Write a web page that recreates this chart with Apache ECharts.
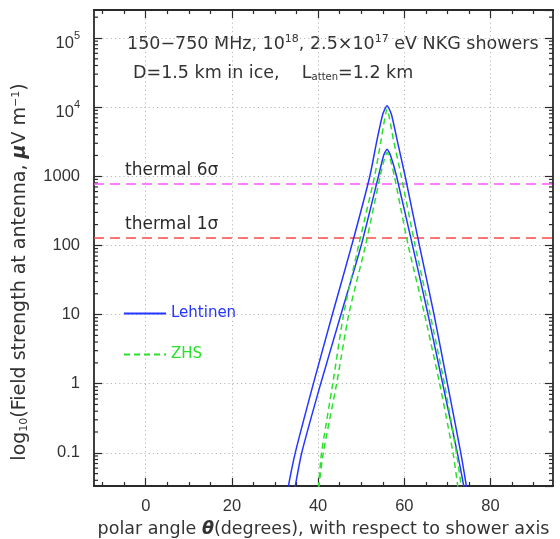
<!DOCTYPE html>
<html><head><meta charset="utf-8">
<script src="https://cdn.jsdelivr.net/npm/echarts@6/dist/echarts.min.js"></script>
<style>html,body{margin:0;padding:0;background:#fff}#c{width:560px;height:539px}</style>
</head><body><div id="c"></div>
<script>
// ---- data ----
const lehtinen18Theta = [32.7, 33.1, 34.7, 38.9, 43.3, 47.8, 52.0, 53.6, 55.0, 56.0, 57.0, 58.4, 60.2, 63.5, 66.9, 70.0, 73.1, 74.4, 74.8];
const lehtinen18Field = [0.022, 0.033, 0.1, 1, 10, 100, 1000, 3200, 7900, 10500, 7900, 3200, 1000, 100, 10, 1, 0.1, 0.033, 0.022];

const lehtinen17Theta = [34.3, 34.7, 36.2, 40.6, 45.3, 50.0, 54.0, 55.2, 56.0, 56.8, 58.2, 61.9, 65.5, 68.9, 72.3, 73.8, 74.2];
const lehtinen17Field = [0.022, 0.033, 0.1, 1, 10, 100, 1000, 2000, 2450, 2000, 1000, 100, 10, 1, 0.1, 0.033, 0.022];

const zhs18Theta = [40.0, 40.1, 40.8, 43.4, 45.9, 49.4, 53.1, 54.6, 56.0, 57.5, 59.3, 62.5, 66.0, 69.3, 72.1, 73.2, 73.5];
const zhs18Field = [0.022, 0.033, 0.1, 1, 10, 100, 1000, 3300, 9300, 3300, 1000, 100, 10, 1, 0.1, 0.033, 0.022];

const zhs17Theta = [40.1, 40.2, 41.2, 44.3, 47.1, 51.0, 54.4, 55.3, 56.0, 56.8, 57.7, 60.9, 64.7, 68.2, 71.3, 72.4, 72.7];
const zhs17Field = [0.022, 0.033, 0.1, 1, 10, 100, 1000, 1700, 2200, 1700, 1000, 100, 10, 1, 0.1, 0.033, 0.022];

const thermal1Sigma = 128;
const thermal6Sigma = 768;

const xMajorTicks = [0, 20, 40, 60, 80];
const xMinorTicks = [-10, -5, 5, 10, 15, 25, 30, 35, 45, 50, 55, 65, 70, 75, 85, 90];
const yMinorTicks = [];
for (let e = -2; e <= 5; e++) for (let m = 2; m <= 9; m++) yMinorTicks.push(m * Math.pow(10, e));

const xMin = -12, xMax = 94.5, yMin = 0.0331, yMax = 254000;

// ---- chart ----
const BLUE = '#2436ff', GREEN = '#2be02b', INK = '#2a2a2a', TXT = '#333';
const NUMF = 'Liberation Sans', WF = 'DejaVu Sans';
const pairs = (a, b) => a.map((t, i) => [t, b[i]]);
const frameLine = { show: true, onZero: false, lineStyle: { color: INK, width: 1.8 } };
const tickStyle = { color: INK, width: 1.2 };
const gridDots = { show: true, lineStyle: { color: '#b8b8b8', type: [1.2, 3], width: 1 } };

function xAx(pos, ticks, len, labels, split) {
  return {
    type: 'value', position: pos, min: xMin, max: xMax, gridIndex: 0,
    axisLine: frameLine,
    axisTick: { show: true, inside: true, length: len, customValues: ticks, lineStyle: tickStyle },
    axisLabel: labels ? { show: true, customValues: ticks, fontSize: 16.5, color: TXT, margin: 12, fontFamily: NUMF } : { show: false },
    splitLine: split ? gridDots : { show: false },
    name: labels ? 'polar angle {it|θ}(degrees), with respect to shower axis' : '',
    nameLocation: 'middle', nameGap: 34,
    nameTextStyle: { fontSize: 17.5, color: TXT, fontFamily: WF, rich: { it: { fontStyle: 'italic', fontWeight: 'bold', fontSize: 17.5, color: TXT, fontFamily: WF } } }
  };
}
function yAx(pos, labels) {
  return {
    type: 'log', logBase: 10, position: pos, min: yMin, max: yMax,
    axisLine: frameLine,
    axisTick: { show: true, inside: true, length: 8, lineStyle: tickStyle },
    axisLabel: labels ? {
      show: true, showMinLabel: false, showMaxLabel: false, fontSize: 16.5, color: TXT, margin: 14, fontFamily: NUMF,
      formatter: v => { const e = Math.round(Math.log10(v)); if (e >= 4) return '{b|10}{sup|' + e + '}'; if (e < 0) return '0.1'; return String(Math.pow(10, e)); },
      rich: { b: { fontSize: 16.5, color: TXT, fontFamily: NUMF, padding: [10, 0, 0, 0] },
              sup: { fontSize: 11, color: TXT, fontFamily: NUMF, padding: [0, 0, 4, 0] } }
    } : { show: false },
    splitLine: labels ? gridDots : { show: false }
  };
}

const curve = (name, data, color, dashed) => ({
  name, type: 'line', data, symbol: 'none', smooth: 0.2, clip: true, z: 5,
  lineStyle: { color, width: 1.5, type: dashed ? [6, 4] : 'solid' },
  itemStyle: { color }
});

const thermalLabel = txt => ({ show: true, position: 'insideStartTop', formatter: txt, color: INK, fontSize: 17, fontFamily: WF, distance: [31, 5] });
const lehtinenA = curve('Lehtinen', pairs(lehtinen18Theta, lehtinen18Field), BLUE, false);
lehtinenA.markLine = {
  symbol: 'none', silent: true, animation: false,
  data: [
    { yAxis: thermal6Sigma, lineStyle: { color: '#ff55ff', type: [10, 6], width: 1.5 }, label: thermalLabel('thermal 6σ') },
    { yAxis: thermal1Sigma, lineStyle: { color: '#ff4a4a', type: [10, 6], width: 1.5 }, label: thermalLabel('thermal 1σ') }
  ]
};

const option = {
  animation: false,
  backgroundColor: '#fff',
  grid: { left: 94, right: 7, top: 10, bottom: 53, containLabel: false, outerBoundsMode: 'none' },
  xAxis: [xAx('bottom', xMajorTicks, 8, true, true), xAx('bottom', xMinorTicks, 4, false, false),
          xAx('top', xMajorTicks, 8, false, false), xAx('top', xMinorTicks, 4, false, false)],
  yAxis: [yAx('left', true), yAx('right', false)],
  legend: {
    orient: 'vertical', left: 123, top: 306, padding: 0, itemWidth: 42, itemHeight: 14, itemGap: 26,
    itemStyle: { opacity: 0 },
    textStyle: { fontSize: 15, fontFamily: WF },
    data: [{ name: 'Lehtinen', textStyle: { color: BLUE } }, { name: 'ZHS', textStyle: { color: GREEN } }]
  },
  graphic: [
    { type: 'text', x: 127, y: 44, style: { text: '150−750 MHz, 10{sup|18}, 2.5×10{sup|17} eV NKG showers', fontSize: 17.5, fill: TXT, fontFamily: WF, verticalAlign: 'middle',
      rich: { sup: { fontSize: 11, fill: TXT, padding: [0, 0, 9, 0], fontFamily: WF } } } },
    { type: 'text', x: 133, y: 73, style: { text: 'D=1.5 km in ice,    L{sub|atten}=1.2 km', fontSize: 17.5, fill: TXT, fontFamily: WF, verticalAlign: 'middle',
      rich: { sub: { fontSize: 10, fill: TXT, padding: [9, 0, 0, 0], fontFamily: WF } } } },
    { type: 'text', x: 20, y: 272, rotation: Math.PI / 2,
      style: { text: 'log{sub|10}(Field strength at antenna, {it|μ}V m{sup|−1})', fontSize: 19, fill: TXT, fontFamily: WF, align: 'center', verticalAlign: 'middle',
        rich: { sub: { fontSize: 11, fill: TXT, padding: [8, 0, 0, 0], fontFamily: WF },
                sup: { fontSize: 11, fill: TXT, padding: [0, 0, 8, 0], fontFamily: WF },
                it: { fontStyle: 'italic', fontWeight: 'bold', fontSize: 19, fill: TXT, fontFamily: WF } } } }
  ],
  series: [
    lehtinenA,
    curve('Lehtinen', pairs(lehtinen17Theta, lehtinen17Field), BLUE, false),
    curve('ZHS', pairs(zhs18Theta, zhs18Field), GREEN, true),
    curve('ZHS', pairs(zhs17Theta, zhs17Field), GREEN, true),
    {
      type: 'custom', silent: true, z: 3,
      data: yMinorTicks.filter(v => v > yMin && v < yMax).map(v => [0, v]),
      encode: { x: 0, y: 1 },
      renderItem: (params, api) => {
        const p = api.coord([0, api.value(1)]);
        const cs = params.coordSys;
        return { type: 'group', children: [
          { type: 'line', shape: { x1: cs.x, y1: p[1], x2: cs.x + 4, y2: p[1] }, style: { stroke: INK, lineWidth: 1.2 } },
          { type: 'line', shape: { x1: cs.x + cs.width - 4, y1: p[1], x2: cs.x + cs.width, y2: p[1] }, style: { stroke: INK, lineWidth: 1.2 } }
        ] };
      }
    }
  ]
};
const chart = echarts.init(document.getElementById('c'), null, { renderer: 'canvas' });
chart.setOption(option);
</script></body></html>
